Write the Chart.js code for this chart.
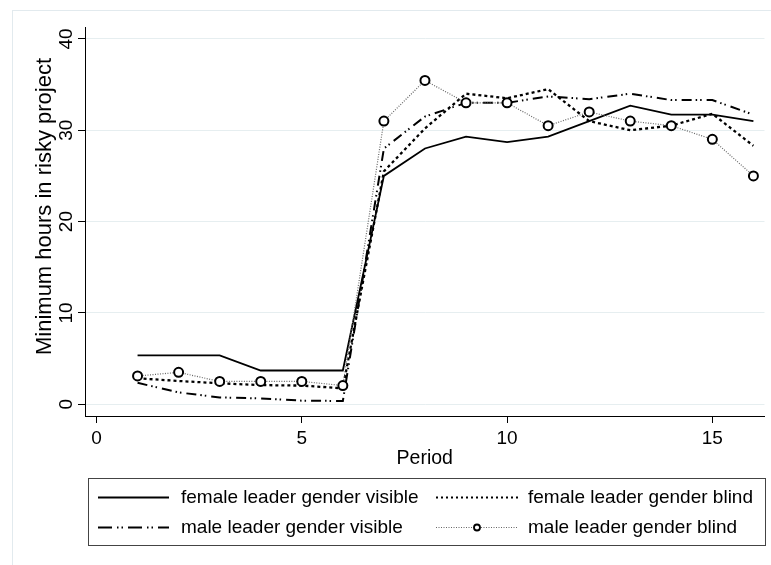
<!DOCTYPE html>
<html>
<head>
<meta charset="utf-8">
<script src="https://cdn.jsdelivr.net/npm/chart.js@4.4.1/dist/chart.umd.min.js"></script>
<style>
  html, body { margin: 0; padding: 0; background: #fff; }
  #wrap { position: relative; width: 771px; height: 565px; }
</style>
</head>
<body>
<div id="wrap"><canvas id="chart"></canvas></div>
<script>
// Periods on the x axis
const PERIODS = [1, 2, 3, 4, 5, 6, 7, 8, 9, 10, 11, 12, 13, 14, 15, 16];

// Mean minimum hours in risky project
const FEMALE_VISIBLE = [5.35, 5.35, 5.35, 3.7, 3.7, 3.7, 25.0, 28.0, 29.3, 28.7, 29.3, 31.0, 32.7, 31.7, 31.7, 31.0];
const FEMALE_BLIND = [2.85, 2.55, 2.3, 2.1, 2.05, 1.75, 25.5, 30.2, 34.0, 33.5, 34.5, 31.0, 30.0, 30.5, 31.8, 28.3];
const MALE_VISIBLE = [2.35, 1.3, 0.75, 0.65, 0.4, 0.36, 28.0, 31.5, 33.0, 33.0, 33.7, 33.4, 34.0, 33.3, 33.3, 31.7];
const MALE_BLIND = [3.1, 3.5, 2.5, 2.5, 2.5, 2.05, 31.0, 35.45, 33.0, 33.0, 30.5, 32.0, 31.0, 30.5, 29.0, 25.0];

const SERIES_LABELS = [
  "female leader gender visible",
  "female leader gender blind",
  "male leader gender visible",
  "male leader gender blind",
];
const Y_TITLE = "Minimum hours in risky project";

// Tick labels
const X_TICKS = [0, 5, 10, 15];
const Y_TICKS = [0, 10, 20, 30, 40];

const FONT = "'Liberation Sans', Arial, sans-serif";
Chart.defaults.font.family = FONT;
Chart.defaults.color = "#000";

const toPoints = (vals) => PERIODS.map((p, i) => ({ x: p, y: vals[i] }));

// Outer faint frame of the graph region
const framePlugin = {
  id: "frame",
  beforeDraw(chart) {
    const ctx = chart.ctx;
    ctx.save();
    ctx.fillStyle = "#fff";
    ctx.fillRect(0, 0, chart.width, chart.height);
    ctx.strokeStyle = "#e2eaee";
    ctx.lineWidth = 1;
    ctx.strokeRect(12.5, 10.5, chart.width + 20, chart.height + 20);
    ctx.restore();
  },
};

// Rotated y axis title, sitting a little above the plot centre like the original
const yTitlePlugin = {
  id: "yTitle",
  afterDraw(chart) {
    const ctx = chart.ctx;
    const area = chart.chartArea;
    ctx.save();
    ctx.translate(45, (area.top + area.bottom) / 2 - 15);
    ctx.rotate(-Math.PI / 2);
    ctx.font = "22px " + FONT;
    ctx.fillStyle = "#000";
    ctx.textAlign = "center";
    ctx.textBaseline = "middle";
    ctx.fillText(Y_TITLE, 0, 0);
    ctx.restore();
  },
};

// Boxed two-column legend below the plot
const legendPlugin = {
  id: "boxLegend",
  afterDraw(chart) {
    const ctx = chart.ctx;
    const cols = [{ x0: 98, x1: 169, tx: 181 }, { x0: 436, x1: 518, tx: 528 }];
    const rows = [497.5, 527.5];
    ctx.save();
    ctx.strokeStyle = "#444";
    ctx.lineWidth = 1;
    ctx.strokeRect(88.5, 478.5, 677, 67);
    ctx.font = "19px " + FONT;
    ctx.textBaseline = "middle";
    ctx.fillStyle = "#000";
    chart.data.datasets.forEach((ds, i) => {
      const c = cols[i % 2];
      const y = rows[Math.floor(i / 2)];
      ctx.save();
      ctx.strokeStyle = ds.borderColor;
      ctx.lineWidth = Math.min(ds.borderWidth, 1.8);
      ctx.setLineDash(ds.legendDash || ds.borderDash || []);
      ctx.beginPath();
      ctx.moveTo(c.x0, y);
      ctx.lineTo(c.x1, y);
      ctx.stroke();
      if (ds.pointRadius > 0) {
        ctx.setLineDash([]);
        ctx.beginPath();
        ctx.arc((c.x0 + c.x1) / 2, y, 3, 0, Math.PI * 2);
        ctx.fillStyle = "#fff";
        ctx.fill();
        ctx.strokeStyle = "#000";
        ctx.lineWidth = 1.8;
        ctx.stroke();
      }
      ctx.restore();
      ctx.fillText(SERIES_LABELS[i], c.tx, y);
    });
    ctx.restore();
  },
};

new Chart(document.getElementById("chart"), {
  type: "line",
  data: {
    datasets: [
      {
        label: SERIES_LABELS[0],
        data: toPoints(FEMALE_VISIBLE),
        borderColor: "#000",
        borderWidth: 1.8,
        pointRadius: 0,
        order: 2,
      },
      {
        label: SERIES_LABELS[1],
        data: toPoints(FEMALE_BLIND),
        borderColor: "#000",
        borderWidth: 2.3,
        borderDash: [3, 3],
        legendDash: [2, 3],
        pointRadius: 0,
        order: 3,
      },
      {
        label: SERIES_LABELS[2],
        data: toPoints(MALE_VISIBLE),
        borderColor: "#000",
        borderWidth: 2,
        borderDash: [10, 4, 1.5, 3, 1.5, 5],
        legendDash: [14, 5, 1.5, 3, 1.5, 5],
        pointRadius: 0,
        order: 1,
      },
      {
        label: SERIES_LABELS[3],
        data: toPoints(MALE_BLIND),
        borderColor: "#666",
        borderWidth: 1.2,
        borderDash: [1, 1.5],
        pointRadius: 4.5,
        pointBorderWidth: 2,
        pointBorderColor: "#000",
        pointBackgroundColor: "#fff",
        order: 0,
      },
    ],
  },
  options: {
    responsive: true,
    maintainAspectRatio: false,
    animation: false,
    layout: { padding: { left: 0, right: 6, top: 27, bottom: 95 } },
    plugins: {
      legend: { display: false },
      tooltip: { enabled: false },
    },
    scales: {
      x: {
        type: "linear",
        min: -0.28,
        max: 16.27,
        afterBuildTicks: (s) => { s.ticks = X_TICKS.map((v) => ({ value: v })); },
        afterFit: (s) => { s.height = 54; },
        grid: { drawOnChartArea: false, tickLength: 7, tickColor: "#000" },
        border: { color: "#000", width: 1 },
        ticks: { font: { size: 19 }, padding: 4, maxRotation: 0, color: "#000" },
        title: { display: true, text: "Period", font: { size: 19.5 }, color: "#000", padding: { top: 0, bottom: 0 } },
      },
      y: {
        min: -1.28,
        max: 41.3,
        afterBuildTicks: (s) => { s.ticks = Y_TICKS.map((v) => ({ value: v })); },
        afterFit: (s) => { s.width = 85; },
        grid: { color: "#e6eef0", tickColor: "#000", tickLength: 7, lineWidth: 1 },
        border: { color: "#000", width: 1 },
        ticks: { font: { size: 19 }, minRotation: 90, maxRotation: 90, crossAlign: "center", padding: 1, color: "#000" },
        title: { display: false },
      },
    },
  },
  plugins: [framePlugin, yTitlePlugin, legendPlugin],
});
</script>
</body>
</html>
